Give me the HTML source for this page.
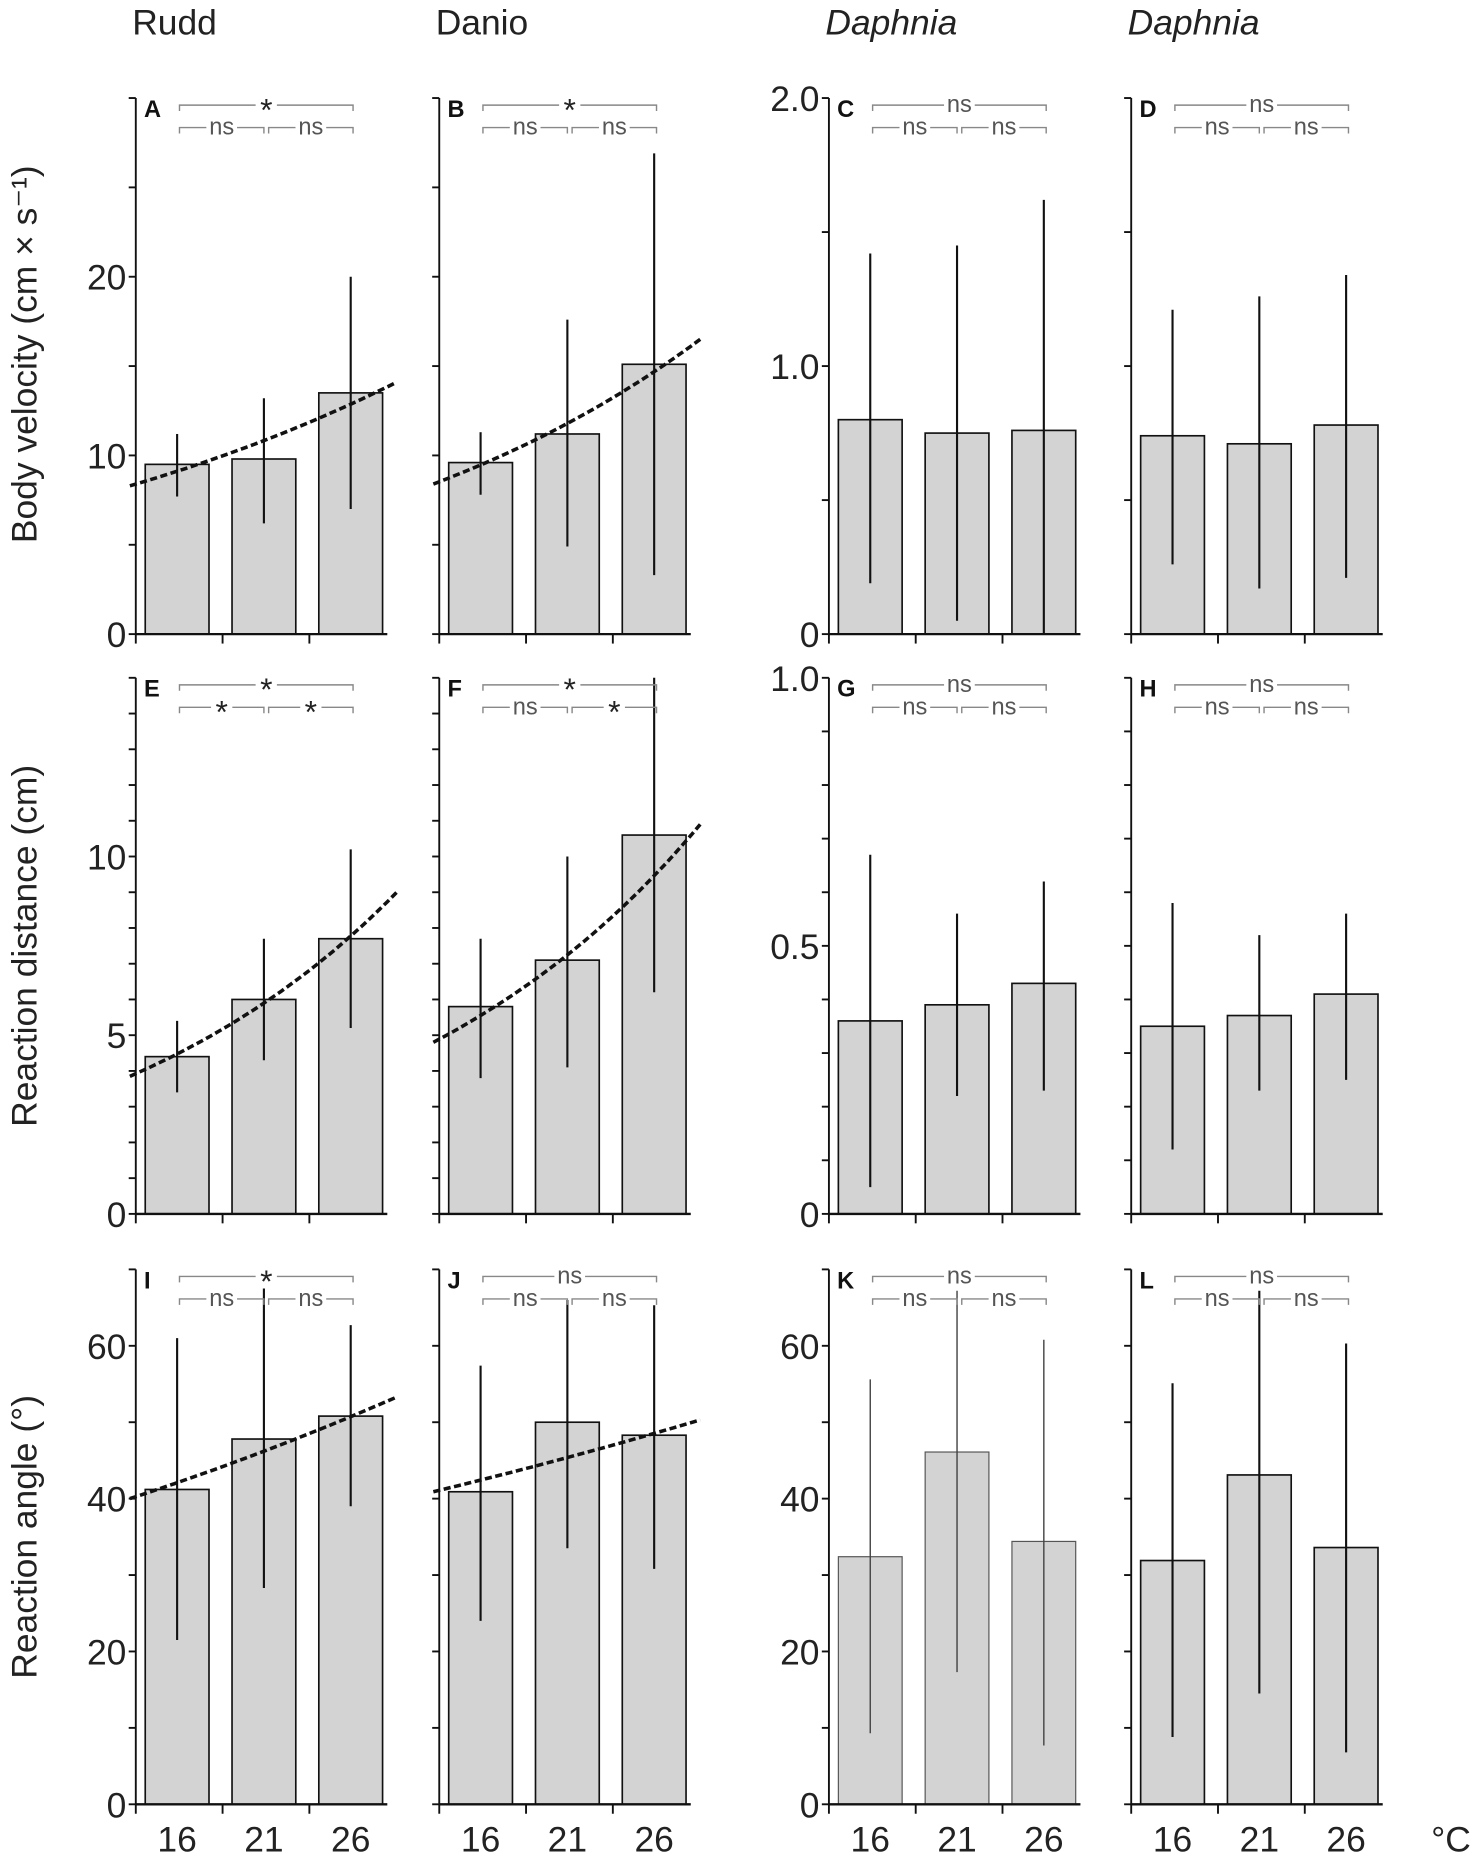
<!DOCTYPE html>
<html><head><meta charset="utf-8"><style>
html,body{margin:0;padding:0;background:#fff;}
svg{display:block;font-family:"Liberation Sans",sans-serif;}
</style></head><body>
<svg id="fig" width="1476" height="1861" viewBox="0 0 1250 1576" xmlns="http://www.w3.org/2000/svg"></svg>
<script>
const categories = ["16","21","26"];
const panelLetters = ["A","B","C","D","E","F","G","H","I","J","K","L"];
const colTitles = ["Rudd","Danio","Daphnia","Daphnia"];
const rowTitles = ["Body velocity (cm × s⁻¹)","Reaction distance (cm)","Reaction angle (°)"];
// bar means
const meanA=[9.5,9.8,13.5], meanB=[9.6,11.2,15.1], meanC=[0.80,0.75,0.76], meanD=[0.74,0.71,0.78];
const meanE=[4.4,6.0,7.7], meanF=[5.8,7.1,10.6], meanG=[0.36,0.39,0.43], meanH=[0.35,0.37,0.41];
const meanI=[41.2,47.8,50.8], meanJ=[40.9,50.0,48.3], meanK=[32.4,46.1,34.4], meanL=[31.9,43.1,33.6];
// error bar low/high
const lowA=[7.7,6.2,7.0], highA=[11.2,13.2,20.0];
const lowB=[7.8,4.9,3.3], highB=[11.3,17.6,26.9];
const lowC=[0.19,0.05,0.0], highC=[1.42,1.45,1.62];
const lowD=[0.26,0.17,0.21], highD=[1.21,1.26,1.34];
const lowE=[3.4,4.3,5.2], highE=[5.4,7.7,10.2];
const lowF=[3.8,4.1,6.2], highF=[7.7,10.0,15.0];
const lowG=[0.05,0.22,0.23], highG=[0.67,0.56,0.62];
const lowH=[0.12,0.23,0.25], highH=[0.58,0.52,0.56];
const lowI=[21.5,28.3,39.0], highI=[61.0,67.5,62.7];
const lowJ=[24.0,33.5,30.8], highJ=[57.4,66.0,65.3];
const lowK=[9.3,17.3,7.7], highK=[55.6,67.2,60.8];
const lowL=[8.8,14.5,6.8], highL=[55.1,67.2,60.3];
// trend line endpoints (value at left / right end)
const trendA=[8.3,14.1], trendB=[8.4,16.5], trendE=[3.85,9.0], trendF=[4.8,10.9], trendI=[40.0,53.3], trendJ=[40.9,50.3];
// significance labels [overall, left pair, right pair]
const sigA=["*","ns","ns"], sigB=["*","ns","ns"], sigC=["ns","ns","ns"], sigD=["ns","ns","ns"];
const sigE=["*","*","*"], sigF=["*","ns","*"], sigG=["ns","ns","ns"], sigH=["ns","ns","ns"];
const sigI=["*","ns","ns"], sigJ=["ns","ns","ns"], sigK=["ns","ns","ns"], sigL=["ns","ns","ns"];
// axis settings per row
const yMaxRow1Fish=30, yMaxRow1Daph=2.0, yMaxRow2Fish=15, yMaxRow2Daph=1.0, yMaxRow3=70;
const ticksFish1=[0,10,20], ticksDaph1=[0,1.0,2.0], ticksFish2=[0,5,10], ticksDaph2=[0,0.5,1.0], ticks3=[0,20,40,60];

const svg=document.getElementById('fig');
const NS="http://www.w3.org/2000/svg";
function mk(tag,attrs,parent,txt){const e=document.createElementNS(NS,tag);for(const k in attrs)e.setAttribute(k,attrs[k]);if(txt!==undefined)e.textContent=txt;(parent||svg).appendChild(e);return e;}

const colX=[115,372,702,958];
const rowY0=[537,1028,1528], rowTop=[83,574,1075];
const panels=[
 {m:meanA,lo:lowA,hi:highA,tr:trendA,sig:sigA,max:yMaxRow1Fish,lab:ticksFish1,minor:5,fmt:0},
 {m:meanB,lo:lowB,hi:highB,tr:trendB,sig:sigB,max:yMaxRow1Fish,lab:null,minor:5,fmt:0},
 {m:meanC,lo:lowC,hi:highC,tr:null,sig:sigC,max:yMaxRow1Daph,lab:ticksDaph1,minor:0.5,fmt:1},
 {m:meanD,lo:lowD,hi:highD,tr:null,sig:sigD,max:yMaxRow1Daph,lab:null,minor:0.5,fmt:1},
 {m:meanE,lo:lowE,hi:highE,tr:trendE,sig:sigE,max:yMaxRow2Fish,lab:ticksFish2,minor:1,fmt:0},
 {m:meanF,lo:lowF,hi:highF,tr:trendF,sig:sigF,max:yMaxRow2Fish,lab:null,minor:1,fmt:0},
 {m:meanG,lo:lowG,hi:highG,tr:null,sig:sigG,max:yMaxRow2Daph,lab:ticksDaph2,minor:0.1,fmt:1},
 {m:meanH,lo:lowH,hi:highH,tr:null,sig:sigH,max:yMaxRow2Daph,lab:null,minor:0.1,fmt:1},
 {m:meanI,lo:lowI,hi:highI,tr:trendI,sig:sigI,max:yMaxRow3,lab:ticks3,minor:10,fmt:0},
 {m:meanJ,lo:lowJ,hi:highJ,tr:trendJ,sig:sigJ,max:yMaxRow3,lab:null,minor:10,fmt:0},
 {m:meanK,lo:lowK,hi:highK,tr:null,sig:sigK,max:yMaxRow3,lab:ticks3,minor:10,fmt:0,thin:true},
 {m:meanL,lo:lowL,hi:highL,tr:null,sig:sigL,max:yMaxRow3,lab:null,minor:10,fmt:0}
];

colTitles.forEach((t,i)=>{
  const e=mk('text',{x:colX[i]-3,y:29,'font-size':30,fill:'#222','font-style':i>=2?'italic':'normal'},svg,t);
  
  
});
rowTitles.forEach((t,r)=>{
  const cy=(rowY0[r]+rowTop[r])/2+(r===0?-10:0);
  const e=mk('text',{x:0,y:0,'font-size':30,fill:'#222','text-anchor':'middle',transform:`translate(31,${cy}) rotate(-90)`},svg,t);
  
  
});

panels.forEach((p,idx)=>{
  const r=Math.floor(idx/4), c=idx%4;
  const ax=colX[c], y0=rowY0[r], yt=rowTop[r];
  const g=mk('g',{});
  
  
  const ys=v=>y0-(v/p.max)*(y0-yt);
  const bx=i=>ax+8+i*73.5;
  const bw=54;
  mk('line',{x1:ax,y1:yt,x2:ax,y2:y0,stroke:'#111','stroke-width':1.6},g);
  const n=Math.round(p.max/p.minor);
  for(let k=0;k<=n;k++){const v=k*p.minor;mk('line',{x1:ax-6,y1:ys(v),x2:ax,y2:ys(v),stroke:'#111','stroke-width':1.6},g);}
  if(p.lab){p.lab.forEach(v=>{const t=mk('text',{x:ax-8,y:ys(v)+11,'font-size':30,'text-anchor':'end',fill:'#222'},g,v===0?'0':v.toFixed(p.fmt));
    });}
  p.m.forEach((v,i)=>{
    const b=mk('rect',{x:bx(i),y:ys(v),width:bw,height:y0-ys(v),fill:'#d3d3d3',stroke:p.thin?'#555':'#111','stroke-width':p.thin?1:1.4},g);
    
    
    const e=mk('line',{x1:bx(i)+bw/2,y1:ys(p.lo[i]),x2:bx(i)+bw/2,y2:ys(p.hi[i]),stroke:p.thin?'#444':'#111','stroke-width':p.thin?1.2:1.8},g);
    
    
  });
  const xr=ax+8+2*73.5+bw+4;
  mk('line',{x1:ax,y1:y0,x2:xr,y2:y0,stroke:'#111','stroke-width':2},g);
  for(let k=0;k<3;k++){const tx=ax+k*73.5;mk('line',{x1:tx,y1:y0,x2:tx,y2:y0+8,stroke:'#111','stroke-width':1.6},g);}
  if(r===2){categories.forEach((cat,i)=>{const t=mk('text',{x:bx(i)+bw/2,y:1568,'font-size':30,'text-anchor':'middle',fill:'#222'},g,cat);
    });}
  if(p.tr){
    const x1=ax-5, x2=xr+8;
    const a=p.tr[0], b=p.tr[1], k=Math.log(b/a);
    let d='';
    for(let s=0;s<=30;s++){const f=s/30;const v=a*Math.exp(k*f);d+=(s?'L':'M')+(x1+(x2-x1)*f).toFixed(1)+','+ys(v).toFixed(1);}
    const tl=mk('path',{d:d,fill:'none',stroke:'#111','stroke-width':3,'stroke-dasharray':'6,3'},g);
    
    
  }
  const L=mk('text',{x:ax+7,y:yt+16,'font-size':20,'font-weight':'bold',fill:'#111'},g,panelLetters[idx]);
  
  const cx=i=>bx(i)+bw/2+2;
  const yb1=yt+6, yb2=yt+25;
  function bracket(xa,xb,y,lab){
    const mid=(xa+xb)/2, gap=lab==='*'?9:13;
    mk('path',{d:`M${xa},${y+5}V${y}H${mid-gap}M${mid+gap},${y}H${xb}V${y+5}`,fill:'none',stroke:'#888','stroke-width':1.2},g);
    const t=mk('text',{x:mid,y:lab==='*'?y+13:y+6,'font-size':lab==='*'?27:20,'text-anchor':'middle',fill:lab==='*'?'#222':'#555'},g,lab);
    
  }
  bracket(cx(0),cx(2),yb1,p.sig[0]);
  bracket(cx(0),cx(1)-2,yb2,p.sig[1]);
  bracket(cx(1)+2,cx(2),yb2,p.sig[2]);
});
const u=mk('text',{x:1212,y:1568,'font-size':30,fill:'#222'},svg,'°C');


</script>
</body></html>
